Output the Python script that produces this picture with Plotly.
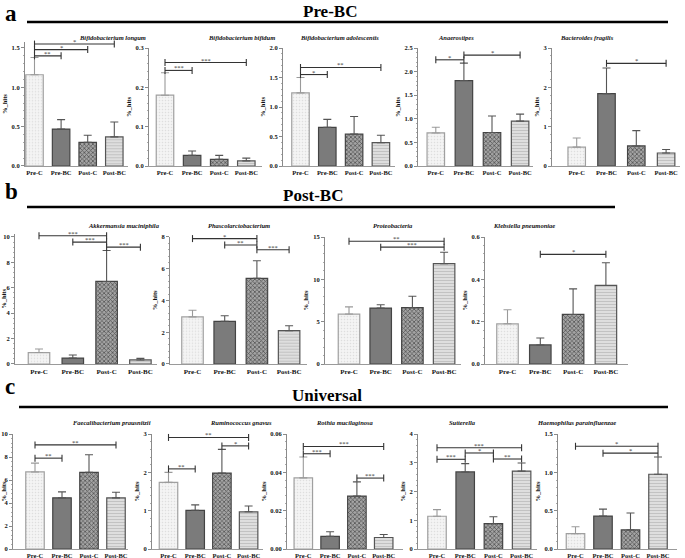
import plotly.graph_objects as go

# ---------------- data ----------------
groups = ["Pre-C", "Pre-BC", "Post-C", "Post-BC"]

longum_mean = [1.16, 0.47, 0.30, 0.37]
longum_sem = [0.22, 0.12, 0.09, 0.19]
longum_sig = [(0, 1, 1.40, "**"), (0, 2, 1.48, "*"), (0, 3, 1.55, "*")]

bifidum_mean = [0.180, 0.027, 0.017, 0.013]
bifidum_sem = [0.057, 0.011, 0.010, 0.007]
bifidum_sig = [(0, 1, 0.243, "***"), (0, 3, 0.263, "***")]

adolescentis_mean = [1.24, 0.655, 0.54, 0.395]
adolescentis_sem = [0.26, 0.135, 0.30, 0.125]
adolescentis_sig = [(0, 1, 1.55, "*"), (0, 3, 1.67, "**")]

anaerostipes_mean = [0.70, 1.81, 0.71, 0.95]
anaerostipes_sem = [0.12, 0.37, 0.35, 0.15]
anaerostipes_sig = [(0, 1, 2.25, "*"), (1, 3, 2.35, "*")]

fragilis_mean = [0.48, 1.84, 0.51, 0.33]
fragilis_sem = [0.23, 0.65, 0.39, 0.09]
fragilis_sig = [(1, 3, 2.61, "*")]

akkermansia_mean = [0.90, 0.47, 6.5, 0.32]
akkermansia_sem = [0.28, 0.24, 2.44, 0.12]
akkermansia_sig = [(0, 2, 10.1, "***"), (1, 2, 9.6, "***"), (2, 3, 9.2, "***")]

phascol_mean = [2.97, 2.69, 5.4, 2.1]
phascol_sem = [0.42, 0.35, 1.1, 0.31]
phascol_sig = [(0, 2, 7.9, "*"), (1, 2, 7.5, "**"), (2, 3, 7.2, "***")]

proteo_mean = [5.9, 6.6, 6.65, 11.85]
proteo_sem = [0.85, 0.4, 1.35, 1.35]
proteo_sig = [(0, 3, 14.5, "**"), (1, 3, 13.8, "***")]

klebs_mean = [0.19, 0.09, 0.234, 0.371]
klebs_sem = [0.066, 0.033, 0.121, 0.107]
klebs_sig = [(1, 3, 0.518, "*")]

faecali_mean = [6.7, 4.45, 6.67, 4.45]
faecali_sem = [0.77, 0.52, 1.53, 0.49]
faecali_sig = [(0, 1, 7.9, "**"), (0, 3, 9.05, "**")]

gnavus_mean = [1.74, 1.01, 1.98, 0.97]
gnavus_sem = [0.26, 0.14, 0.62, 0.15]
gnavus_sig = [(0, 1, 2.09, "**"), (2, 3, 2.69, "*"), (0, 3, 2.91, "**")]

rothia_mean = [0.0371, 0.0066, 0.0276, 0.006]
rothia_sem = [0.0109, 0.0024, 0.0074, 0.0016]
rothia_sig = [(0, 1, 0.0497, "***"), (0, 3, 0.0535, "***"), (2, 3, 0.037, "***")]

sutterella_mean = [1.14, 2.68, 0.88, 2.71]
sutterella_sem = [0.23, 0.29, 0.24, 0.28]
sutterella_sig = [(0, 1, 3.12, "***"), (1, 2, 3.34, "*"), (0, 3, 3.52, "***"), (2, 3, 3.13, "**")]

haemo_mean = [0.20, 0.43, 0.25, 0.975]
haemo_sem = [0.09, 0.09, 0.22, 0.225]
haemo_sig = [(0, 3, 1.34, "*"), (1, 3, 1.25, "*")]

panels = [
    ("Bifidobacterium longum", longum_mean, longum_sem, longum_sig, 1.5, 0.5, ".1f"),
    ("Bifidobacterium bifidum", bifidum_mean, bifidum_sem, bifidum_sig, 0.3, 0.1, ".1f"),
    ("Bifidobacterium adolescentis", adolescentis_mean, adolescentis_sem, adolescentis_sig, 2.0, 0.5, ".1f"),
    ("Anaerostipes", anaerostipes_mean, anaerostipes_sem, anaerostipes_sig, 2.5, 0.5, ".1f"),
    ("Bacteroides fragilis", fragilis_mean, fragilis_sem, fragilis_sig, 3, 1, "d"),
    ("Akkermansia muciniphila", akkermansia_mean, akkermansia_sem, akkermansia_sig, 10, 2, "d"),
    ("Phascolarctobacterium", phascol_mean, phascol_sem, phascol_sig, 8, 2, "d"),
    ("Proteobacteria", proteo_mean, proteo_sem, proteo_sig, 15, 5, "d"),
    ("Klebsiella pneumoniae", klebs_mean, klebs_sem, klebs_sig, 0.6, 0.2, ".1f"),
    ("Faecalibacterium prausnitzii", faecali_mean, faecali_sem, faecali_sig, 10, 2, "d"),
    ("Ruminococcus gnavus", gnavus_mean, gnavus_sem, gnavus_sig, 3, 1, "d"),
    ("Rothia mucilaginosa", rothia_mean, rothia_sem, rothia_sig, 0.06, 0.02, ".2f"),
    ("Sutterella", sutterella_mean, sutterella_sem, sutterella_sig, 4, 1, "d"),
    ("Haemophilus parainfluenzae", haemo_mean, haemo_sem, haemo_sig, 1.5, 0.5, ".1f"),
]

# ---------------- layout geometry (pixels) ----------------
W, H = 685, 558
rows = {"a": (166, 48, 38, 17.5), "b": (364, 237, 225, 21.5), "c": (549, 434, 422, 18.5)}
# row, axis x start, axis x end, first bar center, bar spacing
geom = [
    ("a", 25, 128, 34.5, 26.6),
    ("a", 149, 262, 165, 27.1),
    ("a", 283, 395, 300.5, 26.8),
    ("a", 418, 533, 435.8, 28.1),
    ("a", 552, 680, 576.7, 29.8),
    ("b", 15, 157, 39, 33.8),
    ("b", 170, 307, 192.5, 32.2),
    ("b", 325, 461, 349, 31.7),
    ("b", 485, 628, 507.5, 32.8),
    ("c", 13, 128, 35, 27),
    ("c", 152, 263, 168.5, 26.7),
    ("c", 287, 403, 303.3, 26.8),
    ("c", 418, 537, 437, 28.2),
    ("c", 558, 677, 575.5, 27.5),
]

def PX(p):
    return p / W

def PY(p):
    return 1 - p / H

SERIF = "Liberation Serif"
TXT = "#111111"

styles = [
    dict(color="#f4f4f4", pattern=dict(shape=".", fgcolor="#dedede", bgcolor="#f4f4f4", size=3, solidity=0.2, fillmode="replace"), line="#a0a0a0", err="#9a9a9a"),
    dict(color="#7b7b7b", pattern=None, line="#444444", err="#555555"),
    dict(color="#8c8c8c", pattern=dict(shape="x", fgcolor="#555555", bgcolor="#a4a4a4", size=3, solidity=0.45, fillmode="replace"), line="#444444", err="#555555"),
    dict(color="#dcdcdc", pattern=dict(shape="-", fgcolor="#c2c2c2", bgcolor="#e4e4e4", size=3, solidity=0.45, fillmode="replace"), line="#555555", err="#555555"),
]

fig = go.Figure()
layout = dict(template="none", width=W, height=H, margin=dict(l=0, r=0, t=0, b=0, pad=0),
              paper_bgcolor="white", plot_bgcolor="white", showlegend=False,
              bargap=0)
annotations = []
shapes = []

for k, ((title, mean, sem, sig, ytop, dtick, fmt), (row, ax0, ax1, c0, sp)) in enumerate(zip(panels, geom), start=1):
    y0px, ytpx, titlepx, barpx = rows[row]
    sig_max = max(s[2] for s in sig)
    rtop = max(ytop, sig_max * 1.015)
    top_px = y0px - (rtop / ytop) * (y0px - ytpx)
    xn = "x" if k == 1 else f"x{k}"
    yn = "y" if k == 1 else f"y{k}"
    xk = "xaxis" if k == 1 else f"xaxis{k}"
    yk = "yaxis" if k == 1 else f"yaxis{k}"
    bw = barpx / sp
    for i, g in enumerate(groups):
        st = styles[i]
        marker = dict(color=st["color"], line=dict(color=st["line"], width=1.2))
        if st["pattern"]:
            marker["pattern"] = st["pattern"]
        fig.add_trace(go.Bar(
            x=[i], y=[mean[i]], width=bw, marker=marker, xaxis=xn, yaxis=yn,
            error_y=dict(type="data", symmetric=False, array=[sem[i]], arrayminus=[0],
                         color=st["err"], thickness=1.1, width=4),
            hoverinfo="skip"))
    for (i, j, h, lab) in sig:
        fig.add_trace(go.Scatter(
            x=[i, j], y=[h, h], mode="lines+markers", xaxis=xn, yaxis=yn,
            line=dict(color="#333333", width=1.1),
            marker=dict(symbol="line-ns", size=5, line=dict(color="#333333", width=1.1)),
            hoverinfo="skip", cliponaxis=False))
        annotations.append(dict(x=(i + j) / 2, y=h, xref=xn, yref=yn, text=lab,
                                showarrow=False, yanchor="bottom", yshift=-3,
                                font=dict(family=SERIF, size=6.5, color="#333333")))
    layout[xk] = dict(domain=[PX(ax0), PX(ax1)], anchor=yn,
                      range=[(ax0 - c0) / sp, (ax1 - c0) / sp],
                      tickvals=[0, 1, 2, 3], ticktext=groups,
                      tickfont=dict(family=SERIF, size=6.5 if row != "b" else 7, color=TXT, weight="bold"),
                      showline=True, linecolor="#9a9a9a", linewidth=1.2,
                      ticks="", showgrid=False, zeroline=False, fixedrange=True)
    layout[yk] = dict(domain=[PY(y0px), PY(top_px)], anchor=xn,
                      range=[0, rtop], tick0=0, dtick=dtick, tickformat=fmt,
                      tickfont=dict(family=SERIF, size=6.5, color=TXT, weight="bold"),
                      showline=True, linecolor="#8a8a8a", linewidth=1,
                      ticks="outside", ticklen=3, tickcolor="#8a8a8a", tickwidth=1,
                      minor=dict(ticks="outside", ticklen=1.5, dtick=dtick / 5, tickcolor="#aaaaaa"),
                      title=dict(text="%_hits", standoff=3,
                                 font=dict(family=SERIF, size=6.5, color=TXT, weight="bold")),
                      showgrid=False, zeroline=False, fixedrange=True)
    annotations.append(dict(x=PX((ax0 + ax1) / 2), y=PY(titlepx), xref="paper", yref="paper",
                            text=title, showarrow=False, yanchor="middle",
                            font=dict(family=SERIF, size=6.5, color=TXT, weight="bold", style="italic")))

# section headers
sections = [("a", 13, "Pre-BC", 330, 11, 27, 668, 22),
            ("b", 191, "Post-BC", 313, 195, 27, 615, 207),
            ("c", 386, "Universal", 327, 395, 19, 668, 407)]
for letter, ly, name, nx, ny, lx0, lx1, lyline in sections:
    annotations.append(dict(x=PX(3), y=PY(ly), xref="paper", yref="paper", text=letter,
                            showarrow=False, xanchor="left", yanchor="middle",
                            font=dict(family=SERIF, size=23, color="black", weight="bold")))
    annotations.append(dict(x=PX(nx), y=PY(ny), xref="paper", yref="paper", text=name,
                            showarrow=False, xanchor="center", yanchor="middle",
                            font=dict(family=SERIF, size=17, color="black", weight="bold")))
    shapes.append(dict(type="line", xref="paper", yref="paper", x0=PX(lx0), x1=PX(lx1),
                       y0=PY(lyline), y1=PY(lyline), line=dict(color="black", width=2.5)))

layout["annotations"] = annotations
layout["shapes"] = shapes
fig.update_layout(**layout)
fig.write_html("out.html", config={"displayModeBar": False, "staticPlot": True},
               post_script="document.body.style.margin='0';document.body.style.overflow='hidden';")
